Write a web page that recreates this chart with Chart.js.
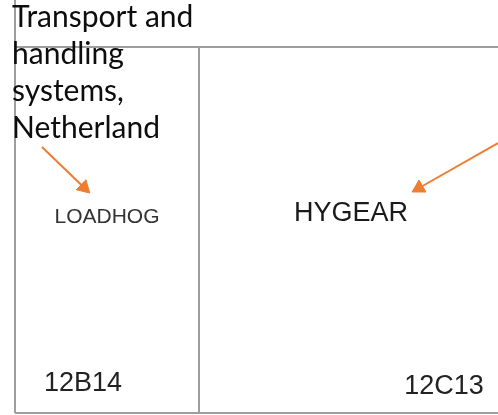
<!DOCTYPE html>
<html>
<head>
<meta charset="utf-8">
<script src="https://cdn.jsdelivr.net/npm/chart.js@4"></script>
<style>
  html, body { margin: 0; padding: 0; background: #fff; }
  #wrap { width: 498px; height: 415px; }
</style>
</head>
<body>
<div id="wrap"><canvas id="plan"></canvas></div>
<script>
// floor plan data (plan units)
const booths = ['12B14', '12C13'];
const boothLabelX = [83, 444];
const boothLabelY = [384, 387];
const exhibitors = ['LOADHOG', 'HYGEAR'];
const exhibitorX = [107, 351];
const exhibitorY = [217, 214];
const noteLines = ['Transport and', 'handling', 'systems,', 'Netherland'];
const noteBaselines = [27, 64, 101, 138];

// walls: [x1, y1, x2, y2]
const walls = [
  [15, 0, 15, 413],
  [15, 47, 498, 47],
  [199, 47, 199, 413],
  [15, 413, 498, 413]
];
// arrows: [fromX, fromY, headX, headY]
const arrows = [
  [42, 147, 84, 187.5],
  [498, 143, 419, 188]
];

const wallSets = walls.map(w => ({
  data: [{ x: w[0], y: w[1] }, { x: w[2], y: w[3] }],
  showLine: true,
  borderColor: '#9e9e9e',
  borderWidth: 2,
  pointRadius: 0,
  clip: false
}));

const arrowSets = arrows.map(a => {
  const rot = Math.atan2(a[2] - a[0], -(a[3] - a[1])) * 180 / Math.PI;
  return {
    data: [{ x: a[0], y: a[1] }, { x: a[2], y: a[3] }],
    showLine: true,
    borderColor: '#ed7d31',
    borderWidth: 2,
    pointStyle: 'triangle',
    pointRadius: [0, 8],
    pointRotation: rot,
    pointBackgroundColor: '#ed7d31',
    pointBorderColor: '#ed7d31',
    pointBorderWidth: 1,
    clip: false
  };
});

const labelPlugin = {
  id: 'planLabels',
  afterDatasetsDraw(chart) {
    const ctx = chart.ctx;
    const sx = chart.scales.x, sy = chart.scales.y;
    ctx.save();
    ctx.fillStyle = '#0d0d0d';
    ctx.font = '30px Lato, "Open Sans", sans-serif';
    ctx.textAlign = 'left';
    ctx.textBaseline = 'alphabetic';
    noteLines.forEach((t, i) => {
      ctx.fillText(t, sx.getPixelForValue(12), sy.getPixelForValue(noteBaselines[i]));
    });

    ctx.textAlign = 'center';
    ctx.textBaseline = 'middle';
    exhibitors.forEach((t, i) => {
      ctx.fillStyle = i === 0 ? '#333' : '#1a1a1a';
      ctx.font = (i === 0 ? 21 : 27) + 'px "Liberation Sans", Arial, sans-serif';
      ctx.fillText(t, sx.getPixelForValue(exhibitorX[i]), sy.getPixelForValue(exhibitorY[i]));
    });
    ctx.fillStyle = '#222';
    ctx.font = '27px "Liberation Sans", Arial, sans-serif';
    booths.forEach((t, i) => {
      ctx.fillText(t, sx.getPixelForValue(boothLabelX[i]), sy.getPixelForValue(boothLabelY[i]));
    });
    ctx.restore();
  }
};

new Chart(document.getElementById('plan'), {
  type: 'scatter',
  data: { datasets: wallSets.concat(arrowSets) },
  options: {
    responsive: true,
    maintainAspectRatio: false,
    animation: false,
    layout: { padding: 0, autoPadding: false },
    plugins: { legend: { display: false }, tooltip: { enabled: false } },
    scales: {
      x: { type: 'linear', min: 0, max: 498, display: false },
      y: { type: 'linear', min: 0, max: 415, reverse: true, display: false }
    }
  },
  plugins: [labelPlugin]
});
</script>
</body>
</html>
